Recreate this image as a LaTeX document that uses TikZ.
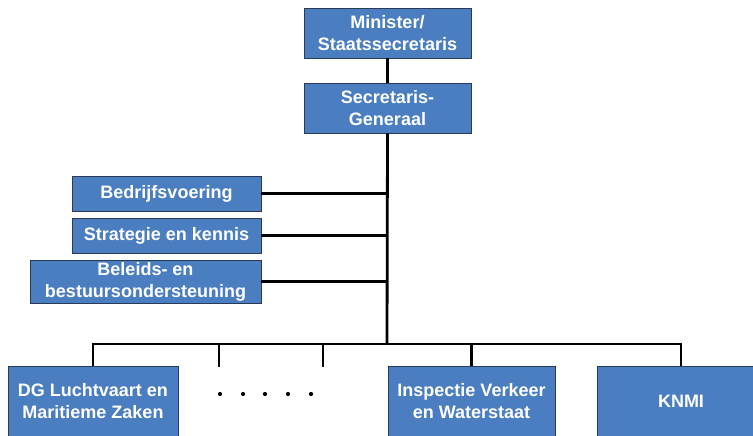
\documentclass[tikz,border=0pt]{standalone}
\usepackage{fontspec}
\setmainfont{Liberation Sans}
\definecolor{cajaazul}{RGB}{74,126,193}
\definecolor{bordeazul}{RGB}{40,60,90}
\tikzset{
  caja/.style={draw=bordeazul, line width=0.8pt, fill=cajaazul, text=white,
    font=\bfseries\fontsize{18}{22}\selectfont, align=center, inner sep=0pt},
  linea/.style={line width=2.8pt}
}
\begin{document}
\begin{tikzpicture}[x=1pt, y=-1pt]
      \useasboundingbox (0,0) rectangle (753,436);

      % Dibujar la direccion
      \node[caja, minimum width=167, minimum height=50] (min) at (387.5,33) {Minister/\\Staatssecretaris};
      \node[caja, minimum width=167, minimum height=50] (sg) at (387.5,108) {Secretaris-\\Generaal};

      % Diensten a la izquierda
      \node[caja, minimum width=189, minimum height=35] (bv) at (166.5,193.5) {Bedrijfsvoering};
      \node[caja, minimum width=189, minimum height=35] (sk) at (166.5,235.5) {Strategie en kennis};
      \node[caja, minimum width=231, minimum height=43] (bb) at (145.5,281.5) {Beleids- en\\bestuursondersteuning};

      % Unidades de abajo
      \node[caja, minimum width=170, minimum height=70] (dg) at (93,401) {DG Luchtvaart en\\Maritieme Zaken};
      \node[caja, minimum width=167, minimum height=70] (ivw) at (471.5,401) {Inspectie Verkeer\\en Waterstaat};
      \node[caja, minimum width=168, minimum height=70] (knmi) at (681,401) {KNMI};

      % Puntos de union
      \coordinate (bus) at (387,344);
      \coordinate (p1) at (219,367);
      \coordinate (p2) at (323,367);

      % Lineas
      \draw[linea] (min.south) -- (sg.north);
      \draw[linea] (sg.south) -- (bus);
      \draw[linea] (bv.east) -- (bv.east -| sg.south);
      \draw[linea] (sk.east) -- (sk.east -| sg.south);
      \draw[linea] (bb.east) -- (bb.east -| sg.south);
      \draw[linea] (dg.north) -- (dg.north |- bus) -- (knmi.north |- bus) -- (knmi.north);
      \draw[linea] (ivw.north) -- (ivw.north |- bus);
      \draw[linea] (p1) -- (p1 |- bus);
      \draw[linea] (p2) -- (p2 |- bus);

      % Puntos suspensivos
      \foreach \x in {220,243,265,288,311}
        \fill (\x,394) circle (2.1);
\end{tikzpicture}
\end{document}
